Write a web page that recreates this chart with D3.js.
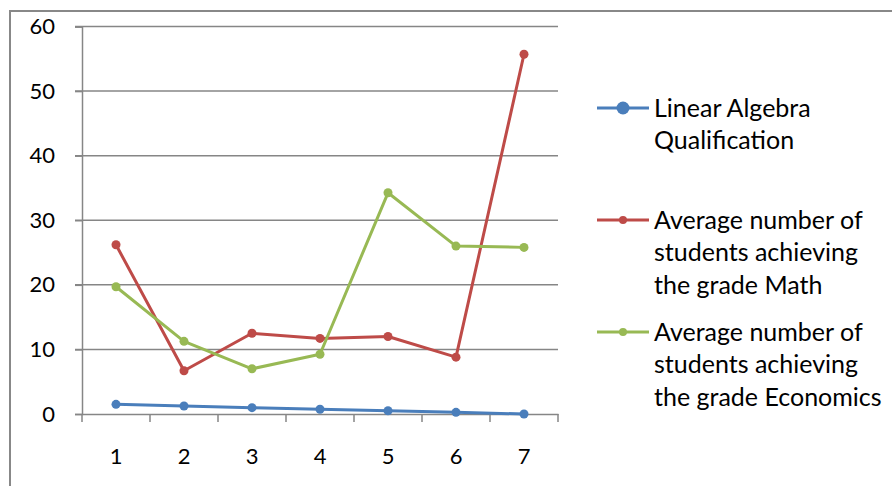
<!DOCTYPE html>
<html>
<head>
<meta charset="utf-8">
<script src="https://cdn.jsdelivr.net/npm/d3@7/dist/d3.min.js"></script>
<style>
  html, body { margin: 0; padding: 0; background: #fff; }
  svg { display: block; font-family: Lato, "Open Sans", sans-serif; }
</style>
</head>
<body>
<svg id="chart" width="892" height="486"></svg>
<script>
// Categories along the x axis
const categories = [1, 2, 3, 4, 5, 6, 7];
// Series values
const linearAlgebra = [1.5, 1.24, 0.98, 0.73, 0.5, 0.26, 0];
const mathAvg = [26.2, 6.7, 12.5, 11.7, 12.0, 8.8, 55.7];
const economicsAvg = [19.7, 11.25, 7.0, 9.25, 34.25, 26.0, 25.8];
// Y tick labels
const yTicks = [0, 10, 20, 30, 40, 50, 60];
// Legend names
const seriesNames = [
  ["Linear Algebra", "Qualification"],
  ["Average number of", "students achieving", "the grade Math"],
  ["Average number of", "students achieving", "the grade Economics"]
];

const series = [
  { name: seriesNames[0], values: linearAlgebra, color: "#4a7ebb", r: 4.5, legendR: 6.5 },
  { name: seriesNames[1], values: mathAvg, color: "#be4b48", r: 4.5, legendR: 4 },
  { name: seriesNames[2], values: economicsAvg, color: "#98b954", r: 4.5, legendR: 4 }
];

const svg = d3.select("#chart");

// Outer chart frame
svg.append("rect")
  .attr("x", 10).attr("y", 11)
  .attr("width", 900).attr("height", 500)
  .attr("fill", "none")
  .attr("stroke", "#888").attr("stroke-width", 2);

const plot = { left: 82, right: 558, top: 26.5, bottom: 414 };

const x = d3.scaleBand().domain(categories).range([plot.left, plot.right]);
const y = d3.scaleLinear().domain([0, 60]).range([plot.bottom, plot.top]);

// Horizontal gridlines
svg.append("g")
  .selectAll("line")
  .data(yTicks.filter(d => d > 0))
  .join("line")
  .attr("x1", plot.left - 7).attr("x2", plot.right)
  .attr("y1", d => y(d)).attr("y2", d => y(d))
  .attr("stroke", "#868686").attr("stroke-width", 1.5);

// Y axis
const yAxis = svg.append("g")
  .attr("transform", `translate(${plot.left},0)`)
  .call(d3.axisLeft(y).tickValues(yTicks).tickSize(7).tickPadding(20));
yAxis.select(".domain").attr("stroke", "#868686").attr("stroke-width", 1.5);
yAxis.selectAll(".tick line").attr("stroke", "#868686").attr("stroke-width", 1.5);
yAxis.selectAll(".tick text")
  .attr("font-size", 22).attr("fill", "#000")
  .attr("font-family", "Lato, 'Open Sans', sans-serif");

// X axis
const xAxis = svg.append("g")
  .attr("transform", `translate(0,${plot.bottom})`)
  .call(d3.axisBottom(x).tickSize(0).tickPadding(34));
xAxis.select(".domain").attr("stroke", "#868686").attr("stroke-width", 1.5);
xAxis.selectAll(".tick text")
  .attr("font-size", 22).attr("fill", "#000")
  .attr("font-family", "Lato, 'Open Sans', sans-serif");

// Category boundary tick marks on x axis
const bounds = categories.map(c => x(c)).concat([x(categories[categories.length - 1]) + x.bandwidth()]);
svg.append("g")
  .selectAll("line")
  .data(bounds)
  .join("line")
  .attr("x1", d => d).attr("x2", d => d)
  .attr("y1", plot.bottom).attr("y2", plot.bottom + 8)
  .attr("stroke", "#868686").attr("stroke-width", 1.5);

const cx = c => x(c) + x.bandwidth() / 2;
const line = d3.line().x((d, i) => cx(categories[i])).y(d => y(d));

// Series lines and markers
series.forEach(s => {
  const g = svg.append("g");
  g.append("path")
    .attr("d", line(s.values))
    .attr("fill", "none")
    .attr("stroke", s.color).attr("stroke-width", 3)
    .attr("stroke-linejoin", "round");
  g.selectAll("circle")
    .data(s.values)
    .join("circle")
    .attr("cx", (d, i) => cx(categories[i]))
    .attr("cy", d => y(d))
    .attr("r", s.r)
    .attr("fill", s.color);
});

// Legend
const legendTops = [108, 220, 332];
const lineHeight = 32.5;
series.forEach((s, k) => {
  const g = svg.append("g").attr("transform", `translate(0,${legendTops[k]})`);
  g.append("line")
    .attr("x1", 597).attr("x2", 649).attr("y1", 0).attr("y2", 0)
    .attr("stroke", s.color).attr("stroke-width", 3);
  g.append("circle").attr("cx", 623).attr("cy", 0).attr("r", s.legendR).attr("fill", s.color);
  s.name.forEach((t, j) => {
    g.append("text")
      .attr("x", 654).attr("y", j * lineHeight)
      .attr("dy", "0.35em")
      .attr("font-size", 25).attr("fill", "#000")
      .text(t);
  });
});
</script>
</body>
</html>
